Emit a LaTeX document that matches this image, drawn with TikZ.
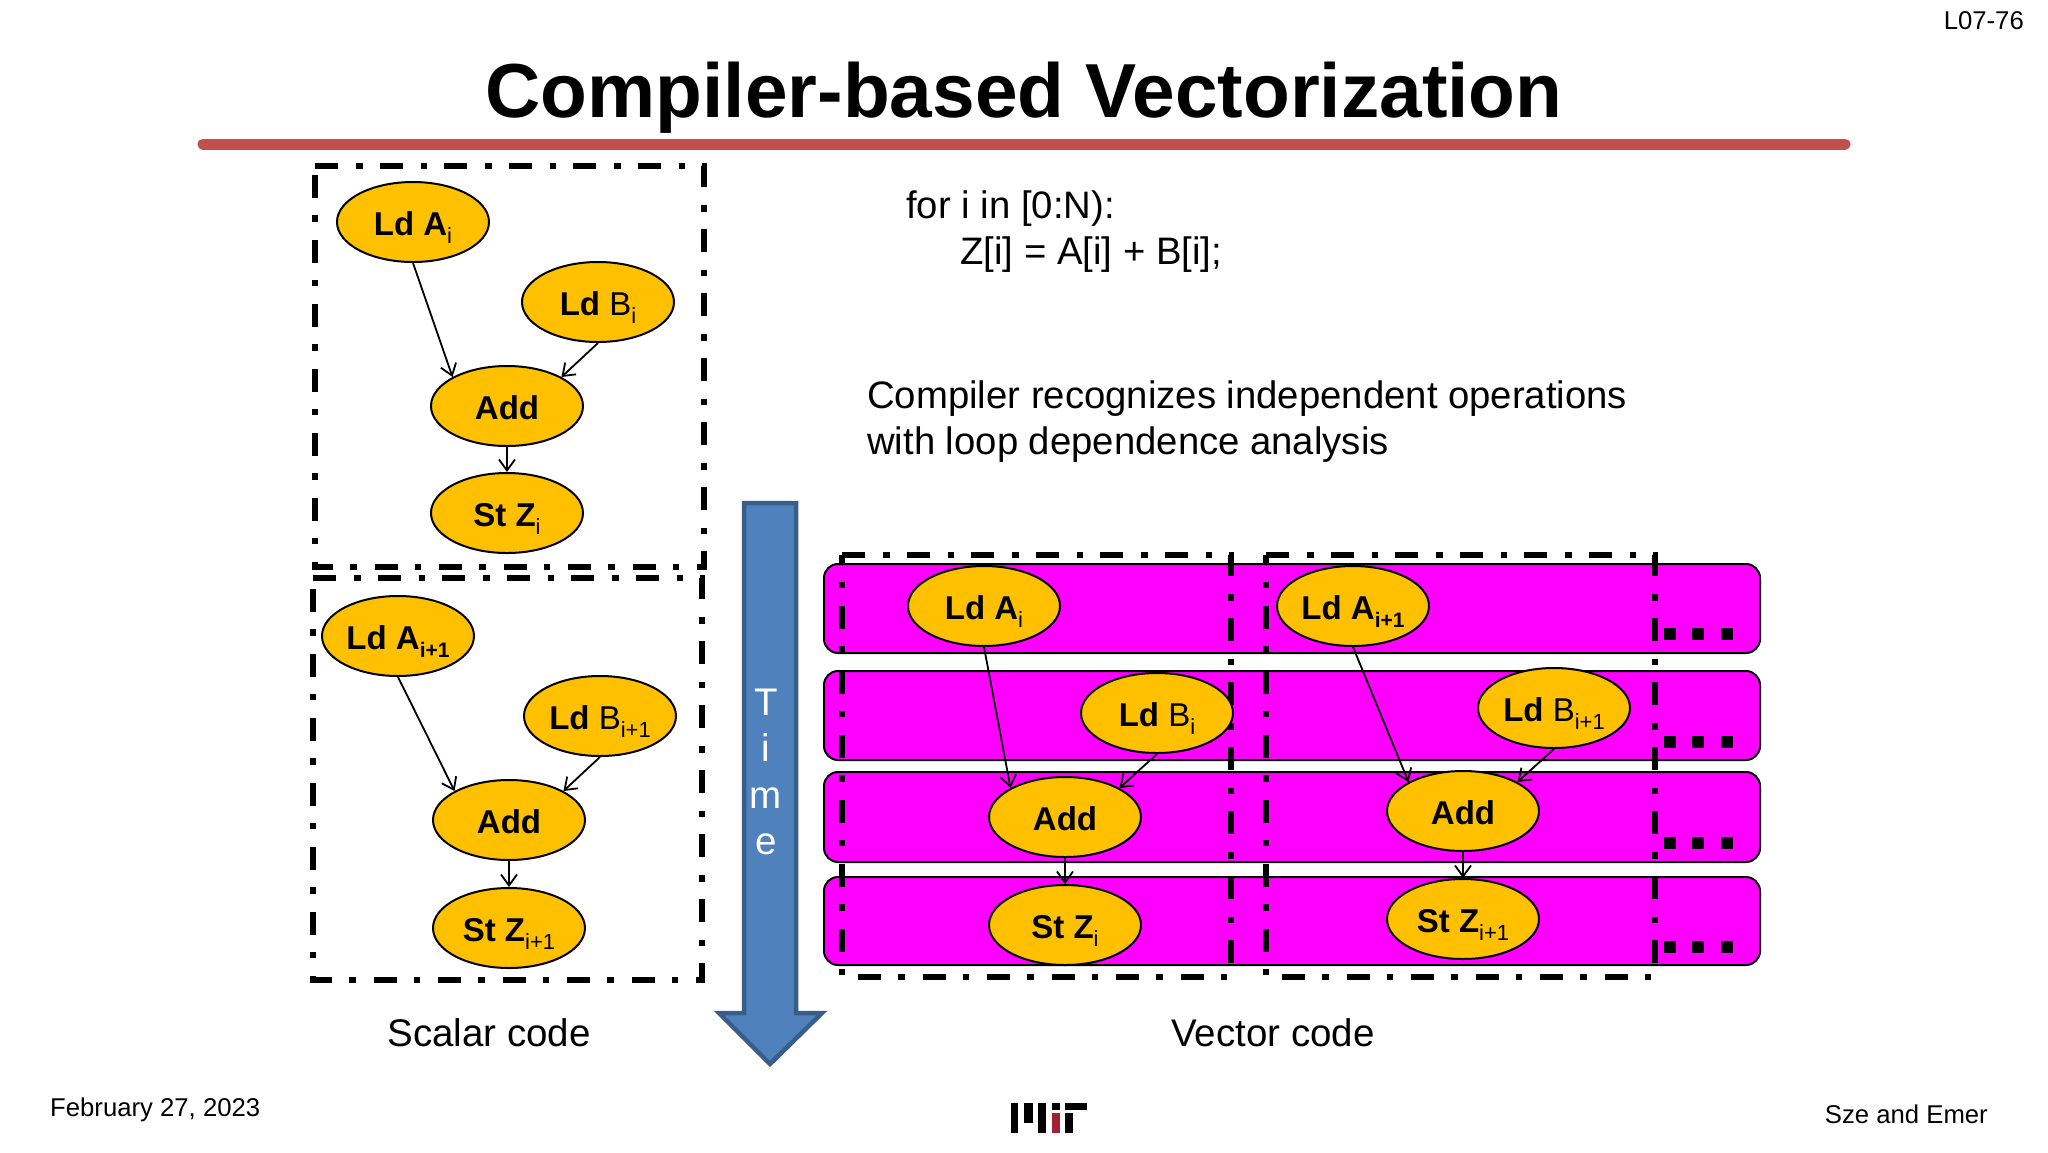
\documentclass[tikz,border=0pt]{standalone}
\usepackage{fontspec}
\setmainfont{Liberation Sans}
\usetikzlibrary{shapes.geometric,arrows.meta}

\definecolor{opfill}{HTML}{FFC000}
\definecolor{rowfill}{HTML}{FF00FF}
\definecolor{timefill}{HTML}{4F81BD}
\definecolor{timeline}{HTML}{385D8A}
\definecolor{rulered}{HTML}{C0504D}
\definecolor{logored}{HTML}{A31F34}

\newcommand{\lsub}[1]{\raisebox{-0.24em}[0pt][0pt]{\fontsize{22}{22}\selectfont #1}}
\newcommand{\bsub}[1]{\raisebox{-0.24em}[0pt][0pt]{\fontsize{21}{21}\selectfont\bfseries #1}}

\tikzset{
    op/.style={ellipse, draw=black, fill=opfill, line width=2pt, minimum width=152pt, minimum height=80pt,
        inner sep=0pt, text height=26.6pt, text depth=0pt, font=\fontsize{33}{36}\selectfont},
    dep/.style={line width=1.8pt, -{Straight Barb[length=11pt,width=16pt]}},
    loopbox/.style={line width=6.5pt, dash pattern=on 23pt off 18pt on 6.5pt off 17pt},
    row/.style={draw=black, fill=rowfill, line width=2pt, rounded corners=14pt},
    body/.style={anchor=west, inner sep=0pt, font=\fontsize{38.3}{46}\selectfont},
    caption/.style={font=\fontsize{38.5}{46}\selectfont},
    small/.style={inner sep=0pt, font=\fontsize{25.7}{30}\selectfont}
}

\begin{document}
\begin{tikzpicture}[x=1pt,y=-1pt]
    \useasboundingbox (0,0) rectangle (2048,1152);

    % heading
    \node[font=\fontsize{76.6}{90}\selectfont\bfseries] (title) at (1024,98) {Compiler-based Vectorization};
    \draw[rulered, line width=11pt, line cap=round] (203,144) -- (1845,144);
    \node[small, anchor=east] (slideno) at (2024,21) {L07-76};

    % scalar code
    \draw[loopbox] (315,166) -- (704,166) -- (704,567) -- (315,567) -- cycle;
    \draw[loopbox] (313,578) -- (702,578) -- (702,980) -- (313,980) -- cycle;

    \node[op] (la0) at (413,222) {\textbf{Ld A}\lsub{i}};
    \node[op] (lb0) at (598,302) {\textbf{Ld} B\lsub{i}};
    \node[op] (add0) at (507,406) {\textbf{Add}};
    \node[op] (st0) at (507,513) {\textbf{St Z}\lsub{i}};
    \draw[dep] (la0.south) -- (add0.north west);
    \draw[dep] (lb0.south) -- (add0.north east);
    \draw[dep] (add0.south) -- (st0.north);

    \node[op] (la1) at (398,636) {\textbf{Ld A}\bsub{i+1}};
    \node[op] (lb1) at (600,716) {\textbf{Ld} B\lsub{i+1}};
    \node[op] (add1) at (509,820) {\textbf{Add}};
    \node[op] (st1) at (509,928) {\textbf{St Z}\lsub{i+1}};
    \draw[dep] (la1.south) -- (add1.north west);
    \draw[dep] (lb1.south) -- (add1.north east);
    \draw[dep] (add1.south) -- (st1.north);

    \node[caption] (scalarcap) at (489,1033) {Scalar code};

    % time arrow
    \draw[timeline, fill=timefill, line width=4.5pt] (744,503) -- (796,503) -- (796,1013) -- (822,1013)
        -- (770,1064) -- (719,1013) -- (744,1013) -- cycle;
    \node[white, align=center, font=\fontsize{38.5}{46.5}\selectfont] (time) at (766,772) {T\\i\\m\\e};

    % text
    \node[body] (forline) at (906,209) {for i in [0:N):};
    \node[body] (zline) at (960,255) {Z[i] = A[i] + B[i];};
    \node[body, align=left] (note) at (867,421.5) {Compiler recognizes independent operations\\with loop dependence analysis};

    % vector code
    \foreach \ya/\yb in {564/653, 671/760, 772/862, 877/965}
        \draw[row] (824,\ya) rectangle (1760,\yb);

    \draw[loopbox] (842,555) -- (1231,555) -- (1231,977) -- (842,977) -- cycle;
    \draw[loopbox] (1266,555) -- (1655,555) -- (1655,977) -- (1266,977) -- cycle;

    \foreach \y in {634,742,843,947}
        \foreach \x in {1670,1698,1727}
            \fill (\x-6,\y-6) rectangle (\x+6,\y+6);

    \node[op] (vla0) at (984,606) {\textbf{Ld A}\lsub{i}};
    \node[op] (vlb0) at (1157,713) {\textbf{Ld} B\lsub{i}};
    \node[op] (vadd0) at (1065,817) {\textbf{Add}};
    \node[op] (vst0) at (1065,925) {\textbf{St Z}\lsub{i}};
    \draw[dep] (vla0.south) -- (vadd0.north west);
    \draw[dep] (vlb0.south) -- (vadd0.north east);
    \draw[dep] (vadd0.south) -- (vst0.north);

    \node[op] (vla1) at (1353,606) {\textbf{Ld A}\bsub{i+1}};
    \node[op] (vlb1) at (1554,708) {\textbf{Ld} B\lsub{i+1}};
    \node[op] (vadd1) at (1463,811) {\textbf{Add}};
    \node[op] (vst1) at (1463,919) {\textbf{St Z}\lsub{i+1}};
    \draw[dep] (vla1.south) -- (vadd1.north west);
    \draw[dep] (vlb1.south) -- (vadd1.north east);
    \draw[dep] (vadd1.south) -- (vst1.north);

    \node[caption] (vectorcap) at (1273,1033) {Vector code};

    % footer
    \node[small, anchor=west] (date) at (50,1110) {February 27, 2023};
    \node[small, anchor=east] (authors) at (1988,1114) {Sze and Emer};

    \fill (1011,1103) rectangle (1018,1133);
    \fill (1024,1103) rectangle (1033,1123);
    \fill (1038,1103) rectangle (1046,1133);
    \fill (1052,1103) rectangle (1060,1110);
    \fill[logored] (1052,1113) rectangle (1060,1133);
    \fill (1065,1103) rectangle (1087,1110);
    \fill (1065,1113) rectangle (1073,1133);
\end{tikzpicture}
\end{document}
